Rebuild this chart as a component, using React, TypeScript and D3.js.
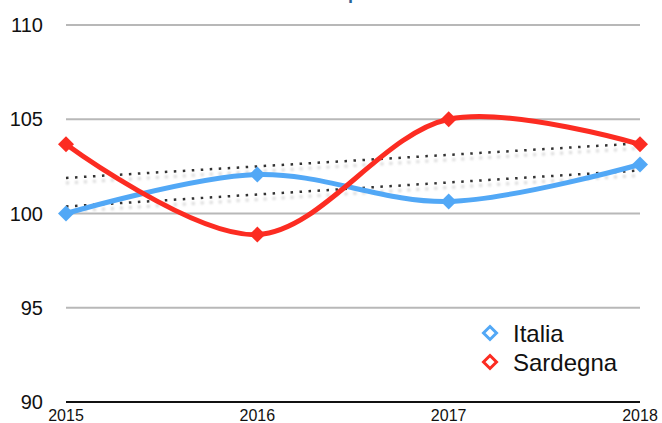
import React from "react";
import * as d3 from "d3";

const years = [2015, 2016, 2017, 2018];
const italia = [100, 102.07, 100.64, 102.6];
const sardegna = [103.67, 98.88, 105.0, 103.67];
const yTicks = [90, 95, 100, 105, 110];
const seriesNames = ["Italia", "Sardegna"];
const seriesColors = ["#52a8f6", "#fc2c22"];

const W = 662;
const H = 423;

function regression(vals: number[]) {
  const n = vals.length;
  const xs = vals.map((_, i) => i);
  const mx = d3.mean(xs) as number;
  const my = d3.mean(vals) as number;
  let num = 0, den = 0;
  xs.forEach((x, i) => { num += (x - mx) * (vals[i] - my); den += (x - mx) ** 2; });
  const b = num / den;
  const a = my - b * mx;
  return [a, a + b * (n - 1)];
}

export default function App() {
  const x = d3.scalePoint<number>().domain(years).range([66, 640]);
  const y = d3.scaleLinear().domain([90, 110]).range([402, 25]);
  const line = d3
    .line<number>()
    .x((_, i) => x(years[i]) as number)
    .y((d) => y(d))
    .curve(d3.curveCatmullRom.alpha(0.5));
  const series = [italia, sardegna];
  const diamond = (cx: number, cy: number, r: number) =>
    `M${cx},${cy - r}L${cx + r},${cy}L${cx},${cy + r}L${cx - r},${cy}Z`;

  return (
    <svg width={W} height={H} style={{ position: "fixed", left: 0, top: 0, background: "#fff" }}
      fontFamily="'Liberation Sans', Arial, Helvetica, sans-serif">
      <defs>
        <filter id="blur" x="-10%" y="-50%" width="120%" height="200%">
          <feGaussianBlur stdDeviation="1.2" />
        </filter>
      </defs>
      <text x={348} y={-1} fill="#2a6496" fontSize={18} fontWeight="bold">p</text>
      {yTicks.map((t) => (
        <g key={t}>
          {t !== 90 && (
            <line x1={66} x2={640} y1={y(t)} y2={y(t)} stroke="#b8b8b8" strokeWidth={2} />
          )}
          <text x={43} y={y(t) + 7} textAnchor="end" fontSize={20} fill="#111">{t}</text>
        </g>
      ))}
      <line x1={66} x2={640} y1={y(90)} y2={y(90)} stroke="#111" strokeWidth={2} />
      {years.map((yr) => (
        <text key={yr} x={x(yr) as number} y={421} textAnchor="middle" fontSize={16} fill="#111">{yr}</text>
      ))}
      {series.map((s, k) => {
        const [a, b] = regression(s);
        return (
          <g key={"t" + k}>
            <line x1={66} x2={640} y1={y(a) + 5} y2={y(b) + 5} stroke="#d8d8d8" strokeWidth={3}
              strokeDasharray="3 6" filter="url(#blur)" />
            <line x1={66} x2={640} y1={y(a)} y2={y(b)} stroke="#333" strokeWidth={2.5}
              strokeDasharray="2.5 6.5" />
          </g>
        );
      })}
      {series.map((s, k) => (
        <g key={"s" + k}>
          <path d={line(s) as string} fill="none" stroke={seriesColors[k]} strokeWidth={5} />
          {s.map((v, i) => (
            <path key={i} d={diamond(x(years[i]) as number, y(v), 8)} fill={seriesColors[k]} />
          ))}
        </g>
      ))}
      {seriesNames.map((n, k) => (
        <g key={n}>
          <path d={diamond(490, 333 + k * 29, 6.5)} fill="none" stroke={seriesColors[k]} strokeWidth={3} />
          <text x={513} y={333 + k * 29 + 8.5} fontSize={24} fill="#111">{n}</text>
        </g>
      ))}
    </svg>
  );
}
